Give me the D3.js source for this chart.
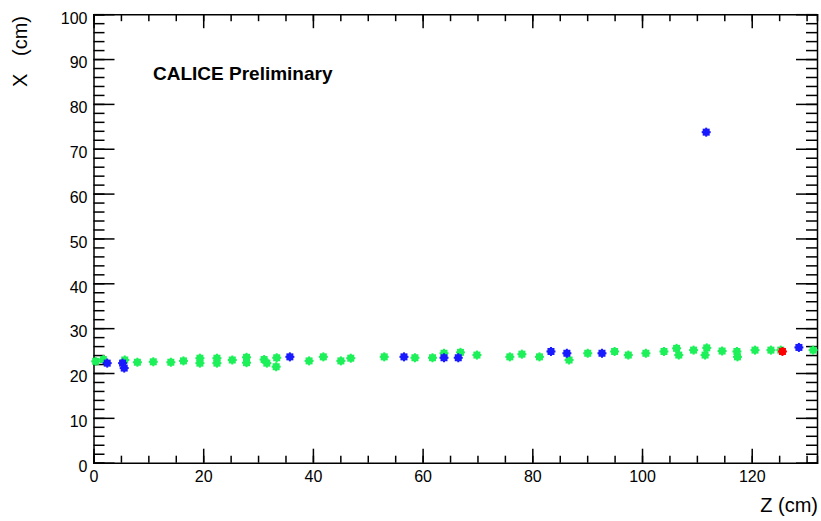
<!doctype html>
<html>
  <head>
    <meta charset="utf-8">
    <title>CALICE hits</title>
    <script src="https://cdnjs.cloudflare.com/ajax/libs/d3/7.8.5/d3.min.js"></script>
    <style>
      body { margin: 0; background: #fff; }
      text { font-family: "Liberation Sans", Arial, Helvetica, sans-serif; fill: #000; }
    </style>
  </head>
  <body>
    <div id="chart"></div>
    <script>
      // hit positions: Z (cm) and X (cm)
      const greenZ = [0.4, 1.8, 5.7, 8.0, 10.9, 14.1, 16.4, 19.4, 19.4, 22.5, 22.5, 25.3, 27.9, 27.9,
        31.1, 31.6, 33.4, 33.3, 39.3, 41.9, 45.1, 46.9, 53.0, 58.6, 61.8, 63.9, 66.9, 69.9, 75.9,
        78.1, 81.3, 86.7, 90.1, 95.0, 97.5, 100.7, 104.0, 106.3, 106.7, 109.4, 111.8, 111.5, 114.6,
        117.3, 117.4, 120.6, 123.5, 125.3, 131.2];
      const greenX = [22.6, 23.0, 22.9, 22.4, 22.5, 22.4, 22.7, 23.3, 22.2, 23.3, 22.2, 22.9, 23.5, 22.3,
        23.0, 22.2, 23.4, 21.4, 22.7, 23.6, 22.7, 23.3, 23.6, 23.4, 23.4, 24.4, 24.6, 24.0, 23.6,
        24.2, 23.6, 22.9, 24.4, 24.8, 24.0, 24.4, 24.8, 25.5, 24.0, 25.1, 25.6, 24.0, 24.9,
        24.8, 23.6, 25.1, 25.1, 25.1, 25.1];
      const blueZ = [2.5, 5.3, 5.6, 35.8, 56.6, 63.9, 66.5, 83.4, 86.3, 92.7, 111.7, 128.6];
      const blueX = [22.2, 22.2, 21.1, 23.6, 23.6, 23.4, 23.4, 24.8, 24.4, 24.4, 73.7, 25.7];
      const redZ = [125.6];
      const redX = [24.8];

      const xMajor = [0, 20, 40, 60, 80, 100, 120];
      const yMajor = [0, 10, 20, 30, 40, 50, 60, 70, 80, 90, 100];

      const W = 821, H = 521;
      const frameL = 93.5, frameR = 817, frameT = 14.2, frameB = 462.7;

      const svg = d3.select('#chart').append('svg')
        .attr('width', W)
        .attr('height', H);

      const x = d3.scaleLinear().domain([0, 131.9]).range([frameL, frameR]);
      const y = d3.scaleLinear().domain([0, 100]).range([frameB, frameT]);

      const xMinor = d3.range(0, 131, 5);
      const yMinor = d3.range(0, 101, 2);

      // bottom axis, ticks pointing up
      svg.append('g')
        .attr('transform', `translate(0,${frameB})`)
        .call(d3.axisBottom(x).tickValues(xMinor).tickSize(-7).tickFormat(''))
        .call(g => g.selectAll('.tick line').attr('stroke-width', 1.5));
      svg.append('g')
        .attr('transform', `translate(0,${frameB})`)
        .call(d3.axisBottom(x).tickValues(xMajor).tickSize(-14).tickPadding(8).tickFormat(d3.format('d')))
        .call(g => g.select('.domain').remove())
        .call(g => g.selectAll('.tick line').attr('stroke-width', 1.5))
        .call(g => g.selectAll('text').attr('font-size', 16).attr('fill', '#000'));

      // top axis, ticks pointing down
      svg.append('g')
        .attr('transform', `translate(0,${frameT})`)
        .call(d3.axisTop(x).tickValues(xMinor).tickSize(-7).tickFormat(''))
        .call(g => g.selectAll('.tick line').attr('stroke-width', 1.5));
      svg.append('g')
        .attr('transform', `translate(0,${frameT})`)
        .call(d3.axisTop(x).tickValues(xMajor).tickSize(-14).tickFormat(''))
        .call(g => g.select('.domain').remove())
        .call(g => g.selectAll('.tick line').attr('stroke-width', 1.5));

      // left axis, ticks pointing right
      svg.append('g')
        .attr('transform', `translate(${frameL},0)`)
        .call(d3.axisLeft(y).tickValues(yMinor).tickSize(-11).tickFormat(''))
        .call(g => g.selectAll('.tick line').attr('stroke-width', 1.5));
      svg.append('g')
        .attr('transform', `translate(${frameL},0)`)
        .call(d3.axisLeft(y).tickValues(yMajor).tickSize(-21).tickPadding(6).tickFormat(d3.format('d')))
        .call(g => g.select('.domain').remove())
        .call(g => g.selectAll('.tick line').attr('stroke-width', 1.5))
        .call(g => g.selectAll('text').attr('font-size', 16).attr('fill', '#000').attr('dy', '0.55em'));

      // right axis, ticks pointing left
      svg.append('g')
        .attr('transform', `translate(${frameR},0)`)
        .call(d3.axisRight(y).tickValues(yMinor).tickSize(-11).tickFormat(''))
        .call(g => g.selectAll('.tick line').attr('stroke-width', 1.5));
      svg.append('g')
        .attr('transform', `translate(${frameR},0)`)
        .call(d3.axisRight(y).tickValues(yMajor).tickSize(-21).tickFormat(''))
        .call(g => g.select('.domain').remove())
        .call(g => g.selectAll('.tick line').attr('stroke-width', 1.5));

      svg.selectAll('.domain').attr('stroke-width', 1.5);

      // markers
      function drawHits(zs, xs, colour) {
        const pts = zs.map((z, i) => ({ z: z, x: xs[i] }));
        const g = svg.append('g').attr('fill', colour);
        g.selectAll('rect.body')
          .data(pts)
          .join('rect')
          .attr('class', 'body')
          .attr('x', d => x(d.z) - 3.5)
          .attr('y', d => y(d.x) - 3.5)
          .attr('width', 7)
          .attr('height', 7);
        g.selectAll('rect.hbar')
          .data(pts)
          .join('rect')
          .attr('class', 'hbar')
          .attr('x', d => x(d.z) - 4.5)
          .attr('y', d => y(d.x) - 1)
          .attr('width', 9)
          .attr('height', 2);
        g.selectAll('rect.vbar')
          .data(pts)
          .join('rect')
          .attr('class', 'vbar')
          .attr('x', d => x(d.z) - 1)
          .attr('y', d => y(d.x) - 4.5)
          .attr('width', 2)
          .attr('height', 9);
      }
      drawHits(greenZ, greenX, '#1ef05a');
      drawHits(blueZ, blueX, '#1a1aff');
      drawHits(redZ, redX, '#ff0000');

      // labels
      svg.append('text')
        .attr('x', 153).attr('y', 80)
        .attr('font-size', 19).attr('font-weight', 'bold')
        .text('CALICE Preliminary');

      svg.append('text')
        .attr('x', 818).attr('y', 512)
        .attr('text-anchor', 'end')
        .attr('font-size', 20)
        .text('Z (cm)');

      svg.append('text')
        .attr('transform', 'translate(27,16) rotate(-90)')
        .attr('text-anchor', 'end')
        .attr('font-size', 20)
        .attr('word-spacing', 12)
        .text('X (cm)');
    </script>
  </body>
</html>
